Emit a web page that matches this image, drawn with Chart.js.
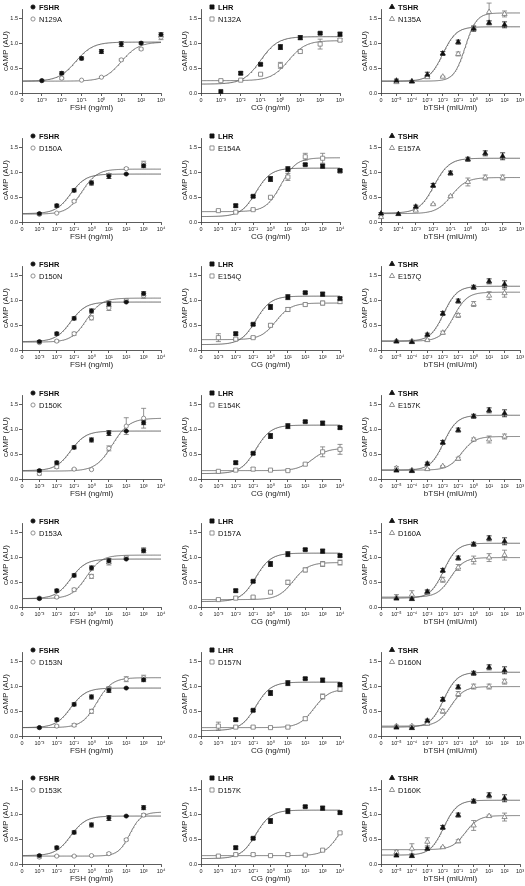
<!DOCTYPE html>
<html>
<head>
<meta charset="utf-8">
<script src="https://cdn.jsdelivr.net/npm/chart.js@4.4.0/dist/chart.umd.min.js"></script>
<style>
  html, body { margin: 0; padding: 0; background: #fff; width: 525px; height: 886px; overflow: hidden; position: relative; }
  canvas { position: absolute; }
</style>
</head>
<body>
<script>
// doses are log10 values; the leftmost axis position (one decade below the first tick) is the "0" dose
const fshDose = [-3, -2, -1, 0, 1, 2, 3];
const cgDose = [-3, -2, -1, 0, 1, 2, 3, 4];
const tshDose = [-5, -4, -3, -2, -1, 0, 1, 2];

// axis ticks per row (first and last exponent)
const fshAxisEnd = [3, 4, 4, 4, 4, 4, 4];
const cgAxisEnd = [3, 4, 4, 4, 4, 4, 4];
const tshAxisStart = [-5, -4, -5, -5, -5, -5, -5];

// wild type receptors (row 1 is a separate experiment, rows 2-7 share the same controls)
const fshWt1 = [0.25, 0.40, 0.70, 0.84, 0.99, 1.01, 1.18];
const fshWt1Err = [0.01, 0.03, 0.03, 0.04, 0.05, 0.02, 0.04];
const fshWt = [0.17, 0.33, 0.64, 0.79, 0.93, 0.97, 1.14];
const fshWtErr = [0.02, 0.03, 0.03, 0.04, 0.05, 0.01, 0.04];
const cgWt1 = [0.03, 0.40, 0.58, 0.93, 1.12, 1.21, 1.19];
const cgWt1Err = [0, 0.03, 0.02, 0.05, 0.04, 0.02, 0.04];
const cgWt = [null, 0.33, 0.52, 0.87, 1.07, 1.16, 1.13, 1.04];
const cgWtErr = [0, 0.03, 0.02, 0.05, 0.05, 0.02, 0.04, 0.03];
const tshWt1 = [0.25, 0.235, 0.37, 0.80, 1.03, 1.30, 1.42, 1.38];
const tshWt1Err = [0.03, 0.02, 0.05, 0.04, 0.04, 0.05, 0.04, 0.06];
const tshWt = [0.17, 0.16, 0.31, 0.74, 0.99, 1.27, 1.39, 1.33];
const tshWtErr = [0.02, 0.02, 0.03, 0.04, 0.04, 0.04, 0.05, 0.07];

// fitted curves: [bottom, top, logEC50, hill]
const fshWtFit = [[0.24, 1.03, -1.3, 1], [0.17, 0.97, -1.2, 1]];
const cgWtFit = [[0.18, 1.14, -1.0, 1], [0.11, 1.09, -0.85, 1]];
const tshWtFit = [[0.24, 1.34, -2.0, 1], [0.18, 1.29, -1.95, 1]];

// mutants
const fshMutNames = ['N129A', 'D150A', 'D150N', 'D150K', 'D153A', 'D153N', 'D153K'];
const fshMut = [
  [0.25, 0.30, 0.26, 0.32, 0.67, 0.89, 1.13],
  [0.155, 0.18, 0.42, 0.78, 0.95, 1.08, 1.18],
  [0.15, 0.18, 0.33, 0.65, 0.85, 1.00, 1.10],
  [0.11, 0.245, 0.20, 0.19, 0.62, 1.07, 1.23],
  [0.18, 0.20, 0.35, 0.62, 0.90, 1.00, 1.15],
  [0.17, 0.20, 0.22, 0.50, 0.95, 1.15, 1.18],
  [0.14, 0.16, 0.16, 0.17, 0.21, 0.49, 0.99]
];
const fshMutErr = [
  [0, 0.02, 0, 0.01, 0.02, 0.02, 0.05],
  [0.02, 0, 0.02, 0.02, 0.02, 0.02, 0.05],
  [0.02, 0.02, 0.03, 0.04, 0.05, 0.03, 0.05],
  [0.03, 0.03, 0.01, 0.01, 0.05, 0.17, 0.20],
  [0.02, 0.02, 0.03, 0.04, 0.05, 0.03, 0.05],
  [0.02, 0.02, 0.03, 0.04, 0.05, 0.05, 0.05],
  [0.02, 0.01, 0.01, 0.01, 0.02, 0.02, 0.03]
];
const fshMutFit = [
  [0.24, 1.03, 1.0, 1], [0.16, 1.07, -0.55, 1], [0.16, 1.05, -0.3, 1], [0.16, 1.23, 1.2, 0.9],
  [0.17, 1.05, -0.3, 1], [0.17, 1.18, 0.3, 1], [0.16, 1.05, 2.2, 1.3]
];

const cgMutNames = ['N132A', 'E154A', 'E154Q', 'E154K', 'D157A', 'D157N', 'D157K'];
const cgMut = [
  [0.25, 0.26, 0.38, 0.56, 0.84, 0.99, 1.07],
  [0.23, 0.20, 0.25, 0.50, 0.91, 1.32, 1.29, 1.03],
  [0.25, 0.22, 0.25, 0.50, 0.82, 0.92, 0.95, 0.98],
  [0.155, 0.18, 0.20, 0.18, 0.17, 0.30, 0.55, 0.60],
  [0.15, 0.18, 0.20, 0.30, 0.50, 0.75, 0.87, 0.90],
  [0.20, 0.18, 0.18, 0.17, 0.18, 0.35, 0.80, 0.95],
  [0.16, 0.19, 0.19, 0.17, 0.19, 0.18, 0.28, 0.63]
];
const cgMutErr = [
  [0.01, 0.01, 0.02, 0.06, 0.03, 0.10, 0.03],
  [0.01, 0.02, 0.01, 0.02, 0.07, 0.07, 0.10, 0.03],
  [0.08, 0.02, 0.02, 0.03, 0.04, 0.03, 0.04, 0.04],
  [0.02, 0.02, 0.03, 0.01, 0.01, 0.02, 0.10, 0.10],
  [0.02, 0.02, 0.02, 0.03, 0.04, 0.04, 0.05, 0.05],
  [0.08, 0.02, 0.02, 0.02, 0.02, 0.03, 0.05, 0.05],
  [0.02, 0.02, 0.02, 0.01, 0.02, 0.01, 0.02, 0.02]
];
const cgMutFit = [
  [0.25, 1.06, 0.4, 1], [0.21, 1.30, 0.6, 1], [0.21, 0.95, 0.3, 1], [0.17, 0.62, 2.4, 1],
  [0.15, 0.90, 1.3, 1], [0.17, 0.95, 2.5, 1], [0.17, 1.10, 4.0, 1]
];

const tshMutNames = ['N135A', 'E157A', 'E157Q', 'E157K', 'D160A', 'D160N', 'D160K'];
const tshMut = [
  [0.22, 0.23, 0.32, 0.33, 0.79, 1.32, 1.64, 1.60],
  [0.10, null, 0.23, 0.36, 0.52, 0.81, 0.90, 0.90],
  [0.18, 0.18, 0.20, 0.35, 0.70, 0.93, 1.10, 1.15],
  [0.22, 0.18, 0.20, 0.26, 0.41, 0.80, 0.80, 0.86],
  [0.20, 0.25, 0.30, 0.55, 0.80, 0.95, 1.00, 1.05],
  [0.20, 0.20, 0.25, 0.50, 0.85, 1.00, 1.00, 1.10],
  [0.24, 0.31, 0.45, 0.34, 0.46, 0.78, 0.97, 0.95]
];
const tshMutErr = [
  [0.02, 0, 0.02, 0.01, 0.04, 0.04, 0.18, 0.06],
  [0.02, 0, 0.01, 0.01, 0.02, 0.08, 0.05, 0.05],
  [0.02, 0.02, 0.02, 0.03, 0.04, 0.05, 0.08, 0.08],
  [0.03, 0.02, 0.01, 0.01, 0.03, 0.03, 0.07, 0.05],
  [0.05, 0.08, 0.05, 0.05, 0.06, 0.08, 0.08, 0.10],
  [0.02, 0.02, 0.03, 0.04, 0.05, 0.05, 0.05, 0.05],
  [0.03, 0.10, 0.08, 0.01, 0.03, 0.10, 0.02, 0.08]
];
const tshMutFit = [
  [0.24, 1.62, -0.55, 1.2], [0.17, 0.90, -0.95, 1], [0.18, 1.17, -1.3, 1], [0.18, 0.86, -0.8, 1],
  [0.20, 1.00, -1.5, 1], [0.20, 1.00, -1.5, 1], [0.29, 0.98, -0.55, 1]
];

const FONT = '"Liberation Sans", Arial, sans-serif';
const colLeft = [0, 179, 359];
const W = 171, H = 113;

const supMap = { '-': '\u207B', '0': '\u2070', '1': '\u00B9', '2': '\u00B2', '3': '\u00B3', '4': '\u2074', '5': '\u2075' };
const sup = n => String(n).split('').map(c => supMap[c]).join('');

function curve(fit, lo, hi) {
  const [b, t, ec, h] = fit;
  const pts = [];
  for (let x = lo; x <= hi + 1e-9; x += 0.04) {
    pts.push({ x: x, y: b + (t - b) / (1 + Math.pow(10, (ec - x) * h)) });
  }
  return pts;
}

function points(dose, vals, errs) {
  return dose.map((d, i) => ({ x: d, y: vals[i], e: errs[i] })).filter(p => p.y != null);
}

function marker(ctx, style, x, y, r) {
  ctx.beginPath();
  if (style === 'circle') {
    ctx.arc(x, y, r, 0, Math.PI * 2);
  } else if (style === 'rect') {
    const s = r * Math.SQRT1_2;
    ctx.rect(x - s, y - s, 2 * s, 2 * s);
  } else {
    for (let k = 0; k < 3; k++) {
      const a = k * 2 * Math.PI / 3;
      ctx.lineTo(x + Math.sin(a) * r, y - Math.cos(a) * r);
    }
    ctx.closePath();
  }
}

const errorBars = {
  id: 'errorBars',
  beforeDatasetsDraw(chart) {
    const { ctx, scales: { x, y } } = chart;
    chart.data.datasets.forEach(ds => {
      if (!ds.errorColor) return;
      ctx.save();
      ctx.strokeStyle = ds.errorColor;
      ctx.lineWidth = 0.8;
      ds.data.forEach(p => {
        if (!p.e) return;
        const px = x.getPixelForValue(p.x);
        const y0 = y.getPixelForValue(p.y - p.e);
        const y1 = y.getPixelForValue(p.y + p.e);
        ctx.beginPath();
        ctx.moveTo(px, y0); ctx.lineTo(px, y1);
        ctx.moveTo(px - 2.5, y0); ctx.lineTo(px + 2.5, y0);
        ctx.moveTo(px - 2.5, y1); ctx.lineTo(px + 2.5, y1);
        ctx.stroke();
      });
      ctx.restore();
    });
  }
};

function legendPlugin(items, style, r) {
  return {
    id: 'miniLegend',
    afterDraw(chart) {
      const ctx = chart.ctx;
      const x0 = chart.chartArea.left;
      items.forEach((it, i) => {
        const y = 7 + 12 * i;
        ctx.save();
        marker(ctx, style, x0 + 11, y, r);
        ctx.fillStyle = it.fill;
        ctx.fill();
        ctx.lineWidth = 0.8;
        ctx.strokeStyle = it.stroke;
        ctx.stroke();
        ctx.font = (it.bold ? 'bold ' : '') + '7.5px ' + FONT;
        ctx.fillStyle = '#111';
        ctx.textBaseline = 'middle';
        ctx.fillText(it.text, x0 + 17, y + 0.5);
        ctx.restore();
      });
    }
  };
}

function panel(col, row, p) {
  const cv = document.createElement('canvas');
  cv.width = W; cv.height = H;
  cv.style.left = colLeft[col] + 'px';
  cv.style.top = Math.round(128.5 * row) + 'px';
  cv.style.width = W + 'px'; cv.style.height = H + 'px';
  document.body.appendChild(cv);

  const xMin = p.first - 1;
  const xTicks = [xMin];
  for (let v = p.first; v <= p.last; v++) xTicks.push(v);

  const axisColor = '#333';
  new Chart(cv, {
    type: 'scatter',
    data: {
      datasets: [
        { label: p.wtName, data: p.wtPts, pointStyle: p.style, pointRadius: p.r, backgroundColor: '#111',
          borderColor: '#111', borderWidth: 0.6, clip: false, errorColor: '#111' },
        { label: p.mutName, data: p.mutPts, pointStyle: p.style, pointRadius: p.r, backgroundColor: '#fff',
          borderColor: '#777', borderWidth: 0.8, clip: false, errorColor: '#777' },
        { data: curve(p.wtFit, xMin, p.last), showLine: true, pointRadius: 0, borderColor: '#555', borderWidth: 0.9 },
        { data: curve(p.mutFit, xMin, p.last), showLine: true, pointRadius: 0, borderColor: '#666', borderWidth: 0.9 }
      ]
    },
    options: {
      responsive: false,
      animation: false,
      events: [],
      layout: { padding: { top: 9, right: 10, left: 0, bottom: 0 } },
      plugins: { legend: { display: false }, tooltip: { enabled: false } },
      scales: {
        x: {
          type: 'linear', min: xMin, max: p.last,
          afterBuildTicks: a => { a.ticks = xTicks.map(v => ({ value: v })); },
          afterFit: s => { s.height = 20; },
          grid: { drawOnChartArea: false, drawTicks: true, tickLength: 3, color: axisColor, lineWidth: 0.8 },
          border: { color: axisColor, width: 0.8 },
          ticks: { font: { size: 5.5, family: FONT }, color: '#222', padding: 1, maxRotation: 0, autoSkip: false,
                   callback: v => v === xMin ? '0' : '10' + sup(v) },
          title: { display: true, text: p.xTitle, font: { size: 8, family: FONT }, color: '#222', padding: 0 }
        },
        y: {
          type: 'linear', min: 0, max: 1.7,
          afterBuildTicks: a => { a.ticks = [0, 0.5, 1, 1.5].map(v => ({ value: v })); },
          afterFit: s => { s.width = 22; },
          grid: { drawOnChartArea: false, drawTicks: true, tickLength: 3, color: axisColor, lineWidth: 0.8 },
          border: { color: axisColor, width: 0.8 },
          ticks: { font: { size: 5.5, family: FONT }, color: '#222', padding: 1, callback: v => v.toFixed(1) },
          title: { display: true, text: 'cAMP (AU)', font: { size: 8, family: FONT }, color: '#222', padding: { top: 1, bottom: 0 } }
        }
      }
    },
    plugins: [errorBars, legendPlugin([
      { text: p.wtName, bold: true, fill: '#111', stroke: '#111' },
      { text: p.mutName, bold: false, fill: '#fff', stroke: '#777' }
    ], p.style, p.r)]
  });
}

for (let row = 0; row < 7; row++) {
  const w = row === 0 ? 0 : 1;
  panel(0, row, {
    first: -3, last: fshAxisEnd[row], style: 'circle', r: 2.1, xTitle: 'FSH (ng/ml)',
    wtName: 'FSHR', mutName: fshMutNames[row],
    wtPts: points(fshDose, row === 0 ? fshWt1 : fshWt, row === 0 ? fshWt1Err : fshWtErr),
    mutPts: points(fshDose, fshMut[row], fshMutErr[row]),
    wtFit: fshWtFit[w], mutFit: fshMutFit[row]
  });
  panel(1, row, {
    first: -3, last: cgAxisEnd[row], style: 'rect', r: 2.9, xTitle: 'CG (ng/ml)',
    wtName: 'LHR', mutName: cgMutNames[row],
    wtPts: points(cgDose, row === 0 ? cgWt1 : cgWt, row === 0 ? cgWt1Err : cgWtErr),
    mutPts: points(cgDose, cgMut[row], cgMutErr[row]),
    wtFit: cgWtFit[w], mutFit: cgMutFit[row]
  });
  panel(2, row, {
    first: tshAxisStart[row], last: 3, style: 'triangle', r: 3.0, xTitle: 'bTSH (mIU/ml)',
    wtName: 'TSHR', mutName: tshMutNames[row],
    wtPts: points(tshDose, row === 0 ? tshWt1 : tshWt, row === 0 ? tshWt1Err : tshWtErr),
    mutPts: points(tshDose, tshMut[row], tshMutErr[row]),
    wtFit: tshWtFit[w], mutFit: tshMutFit[row]
  });
}
</script>
</body>
</html>
